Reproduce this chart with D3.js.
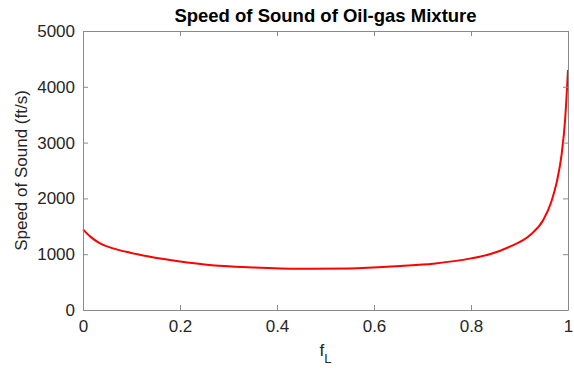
<!DOCTYPE html>
<html>
<head>
<meta charset="utf-8">
<script src="https://cdn.jsdelivr.net/npm/d3@7"></script>
<style>
  body { margin: 0; background: #fff; }
  text { font-family: "Liberation Sans", Arial, Helvetica, sans-serif; fill: #262626; }
</style>
</head>
<body>
<div id="wrapper"></div>
<script>
// data
const liquidFraction = [0, 0.015, 0.035, 0.062, 0.097, 0.138, 0.2, 0.255, 0.35, 0.447, 0.55, 0.654, 0.722, 0.8, 0.84, 0.88, 0.922, 0.949, 0.966, 0.977, 0.987, 0.994, 1.0];
const soundSpeed = [1446, 1315, 1195, 1105, 1027, 955, 870, 812, 762, 738, 745, 790, 830, 925, 1004, 1135, 1344, 1613, 1950, 2300, 2800, 3405, 4300];
const xTicks = [0, 0.2, 0.4, 0.6, 0.8, 1];
const yTicks = [0, 1000, 2000, 3000, 4000, 5000];

const dataset = liquidFraction.map((f, i) => ({ f, v: soundSpeed[i] }));

let dimensions = {
  width: 574,
  height: 368,
  margin: { top: 31, right: 6, bottom: 58, left: 83 },
};
dimensions.boundedWidth = dimensions.width - dimensions.margin.left - dimensions.margin.right;
dimensions.boundedHeight = dimensions.height - dimensions.margin.top - dimensions.margin.bottom;

const wrapper = d3.select("#wrapper")
  .append("svg")
  .attr("width", dimensions.width)
  .attr("height", dimensions.height);

const bounds = wrapper.append("g")
  .attr("transform", `translate(${dimensions.margin.left},${dimensions.margin.top})`);

const xScale = d3.scaleLinear().domain([0, 1]).range([0, dimensions.boundedWidth]);
const yScale = d3.scaleLinear().domain([0, 5000]).range([dimensions.boundedHeight, 0]);

// the line
const lineGenerator = d3.line()
  .x(d => xScale(d.f))
  .y(d => yScale(d.v))
  .curve(d3.curveMonotoneX);

bounds.append("path")
  .attr("d", lineGenerator(dataset))
  .attr("fill", "none")
  .attr("stroke", "#ff0000")
  .attr("stroke-width", 2);

// axes, matlab style: ticks inside, box on
const axisColor = "#8a8a8a";
function styleAxis(g, showLabels) {
  g.select(".domain").attr("stroke", axisColor);
  g.selectAll(".tick line").attr("stroke", axisColor);
  g.selectAll(".tick text")
    .style("font-size", "17px")
    .attr("fill", "#262626")
    .style("display", showLabels ? null : "none");
}

bounds.append("g")
  .attr("transform", `translate(0,${dimensions.boundedHeight})`)
  .call(d3.axisBottom(xScale).tickValues(xTicks).tickFormat(d3.format("")).tickSizeInner(-5).tickSizeOuter(0).tickPadding(10))
  .call(g => styleAxis(g, true));

bounds.append("g")
  .call(d3.axisTop(xScale).tickValues(xTicks).tickSizeInner(-5).tickSizeOuter(0))
  .call(g => styleAxis(g, false));

bounds.append("g")
  .call(d3.axisLeft(yScale).tickValues(yTicks).tickFormat(d3.format("")).tickSizeInner(-5).tickSizeOuter(0).tickPadding(8))
  .call(g => styleAxis(g, true));

bounds.append("g")
  .attr("transform", `translate(${dimensions.boundedWidth},0)`)
  .call(d3.axisRight(yScale).tickValues(yTicks).tickSizeInner(-5).tickSizeOuter(0))
  .call(g => styleAxis(g, false));

// title
wrapper.append("text")
  .attr("x", dimensions.margin.left + dimensions.boundedWidth / 2)
  .attr("y", 22)
  .attr("text-anchor", "middle")
  .style("font-size", "18.5px")
  .style("font-weight", "bold")
  .style("fill", "#000")
  .text("Speed of Sound of Oil-gas Mixture");

// x label with subscript
const xLabel = wrapper.append("text")
  .attr("x", dimensions.margin.left + dimensions.boundedWidth / 2)
  .attr("y", 356)
  .attr("text-anchor", "middle")
  .style("font-size", "17px");
xLabel.append("tspan").text("f");
xLabel.append("tspan").attr("dy", 7).style("font-size", "13px").text("L");

// y label
wrapper.append("text")
  .attr("transform", `translate(27,${dimensions.margin.top + dimensions.boundedHeight / 2}) rotate(-90)`)
  .attr("text-anchor", "middle")
  .style("font-size", "17px")
  .text("Speed of Sound (ft/s)");
</script>
</body>
</html>
